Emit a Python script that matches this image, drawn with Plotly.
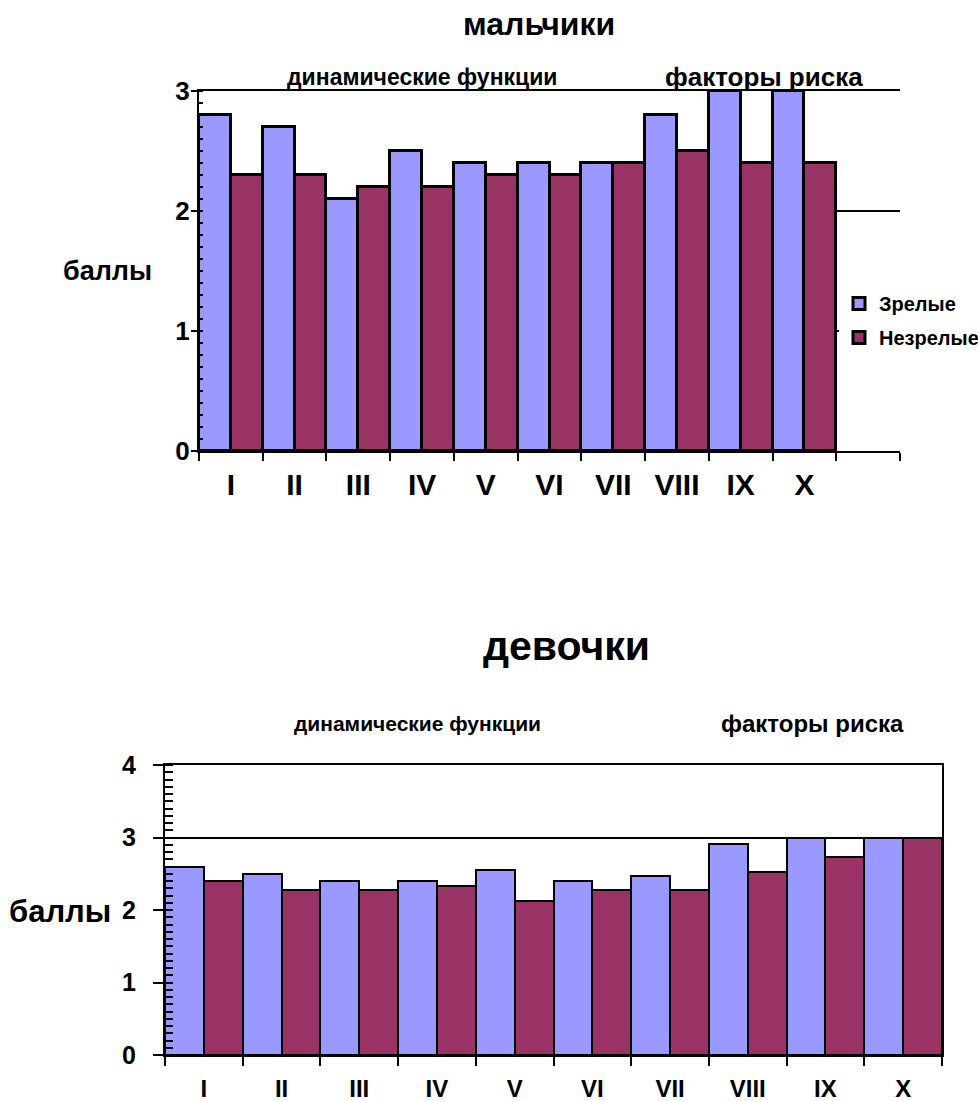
import plotly.graph_objects as go

# ---- data ----
categories = ["I", "II", "III", "IV", "V", "VI", "VII", "VIII", "IX", "X"]
series_names = ["Зрелые", "Незрелые"]
boys_mature = [2.8, 2.7, 2.1, 2.5, 2.4, 2.4, 2.4, 2.8, 3.0, 3.0]
boys_immature = [2.3, 2.3, 2.2, 2.2, 2.3, 2.3, 2.4, 2.5, 2.4, 2.4]
girls_mature = [2.6, 2.5, 2.4, 2.4, 2.55, 2.4, 2.47, 2.91, 3.0, 3.0]
girls_immature = [2.4, 2.27, 2.27, 2.33, 2.13, 2.27, 2.27, 2.52, 2.73, 3.0]
boys_yticks = [0, 1, 2, 3]
girls_yticks = [0, 1, 2, 3, 4]

BLUE = "#9999FF"
MAROON = "#993366"
FONT = "Liberation Sans, Arial, sans-serif"
W, H = 978, 1101


def fx(px):
    return px / W


def fy(py):
    return 1 - py / H


pos = list(range(len(categories)))

fig = go.Figure()
# top chart (boys)
fig.add_trace(go.Bar(x=pos, y=boys_mature, name=series_names[0], xaxis="x", yaxis="y",
                     marker=dict(color=BLUE, line=dict(color="black", width=3)), legendgroup="a"))
fig.add_trace(go.Bar(x=pos, y=boys_immature, name=series_names[1], xaxis="x", yaxis="y",
                     marker=dict(color=MAROON, line=dict(color="black", width=3)), legendgroup="b"))
# bottom chart (girls)
fig.add_trace(go.Bar(x=pos, y=girls_mature, name=series_names[0], xaxis="x2", yaxis="y2",
                     marker=dict(color=BLUE, line=dict(color="black", width=2)), showlegend=False))
fig.add_trace(go.Bar(x=pos, y=girls_immature, name=series_names[1], xaxis="x2", yaxis="y2",
                     marker=dict(color=MAROON, line=dict(color="black", width=2)), showlegend=False))

bold = dict(family=FONT, color="black", weight="bold")


def label(text, x, y, size):
    return dict(text=text, x=fx(x), y=fy(y), xref="paper", yref="paper",
                xanchor="center", yanchor="middle", showarrow=False,
                font=dict(size=size, **bold))


fig.update_layout(
    width=W, height=H,
    margin=dict(l=0, r=0, t=0, b=0, autoexpand=False),
    paper_bgcolor="white", plot_bgcolor="white",
    barmode="group", bargap=0, bargroupgap=0,
    font=dict(family=FONT, color="black"),
    xaxis=dict(
        domain=[fx(199), fx(900)], anchor="y",
        range=[-0.5, 10.5], tickmode="array", tickvals=pos, ticktext=categories,
        ticks="", tickfont=dict(size=30, **bold), ticklabelstandoff=6,
        showline=True, linecolor="black", linewidth=2, mirror=True,
        showgrid=False, zeroline=False,
        minor=dict(ticks="outside", tick0=-0.5, dtick=1, ticklen=8, tickwidth=2, tickcolor="black"),
    ),
    yaxis=dict(
        domain=[fy(451), fy(91)], anchor="x",
        range=[0, 3], tickmode="array", tickvals=boys_yticks,
        ticks="outside", ticklen=6, tickwidth=2, tickcolor="black",
        tickfont=dict(size=26, **bold), ticklabelstandoff=-4,
        showline=True, linecolor="black", linewidth=2,
        showgrid=True, gridcolor="black", gridwidth=2, zeroline=False,
        minor=dict(ticks="inside", dtick=0.1, ticklen=4, tickwidth=2, tickcolor="black", showgrid=False),
    ),
    xaxis2=dict(
        domain=[fx(165), fx(942)], anchor="y2",
        range=[-0.5, 9.5], tickmode="array", tickvals=pos, ticktext=categories,
        ticks="", tickfont=dict(size=24, **bold), ticklabelstandoff=11,
        showline=True, linecolor="black", linewidth=2, mirror=True,
        showgrid=False, zeroline=False,
        minor=dict(ticks="outside", tick0=-0.5, dtick=1, ticklen=9, tickwidth=2, tickcolor="black"),
    ),
    yaxis2=dict(
        domain=[fy(1055), fy(765)], anchor="x2",
        range=[0, 4], tickmode="array", tickvals=girls_yticks,
        ticks="outside", ticklen=10, tickwidth=2, tickcolor="black",
        tickfont=dict(size=25, **bold), ticklabelstandoff=12,
        showline=True, linecolor="black", linewidth=2, mirror=True,
        showgrid=True, gridcolor="black", gridwidth=2, zeroline=False,
        minor=dict(ticks="inside", dtick=0.1, ticklen=8, tickwidth=2, tickcolor="black", showgrid=False),
    ),
    legend=dict(
        x=fx(839), y=fy(284), xanchor="left", yanchor="top",
        bgcolor="white", borderwidth=0, font=dict(size=20, **bold),
        traceorder="grouped", tracegroupgap=5,
    ),
    annotations=[
        label("мальчики", 539, 24, 32),
        label("динамические функции", 422, 77, 23),
        label("факторы риска", 764, 77, 26),
        label("баллы", 107, 271, 27),
        label("девочки", 566, 646, 41),
        label("динамические функции", 417, 723, 21),
        label("факторы риска", 812, 723, 24),
        label("баллы", 60, 911, 31),
    ],
)

fig.write_html(
    "out.html",
    config={"displayModeBar": False},
    post_script="document.body.style.margin='0px';document.documentElement.style.overflow='hidden';",
)
